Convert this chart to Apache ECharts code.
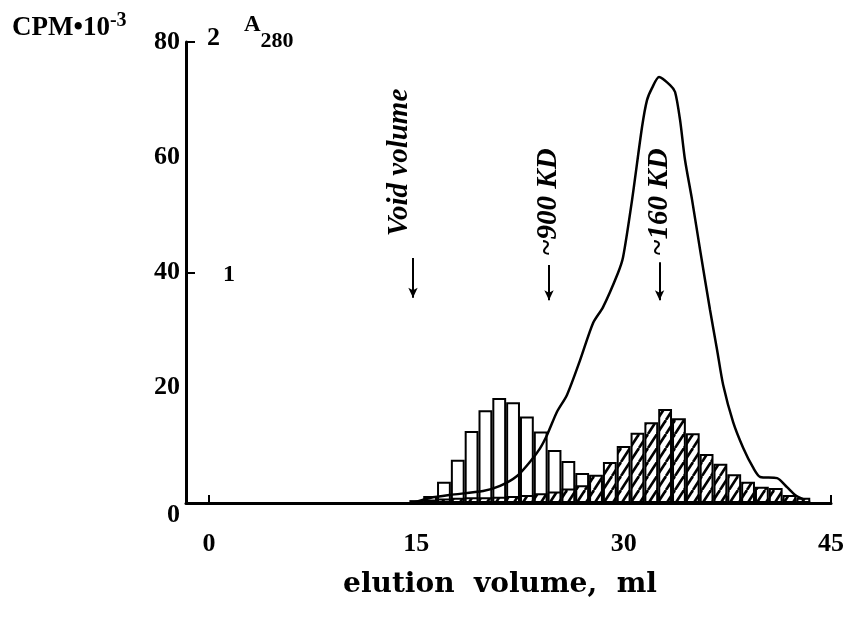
<!DOCTYPE html>
<html>
<head>
<meta charset="utf-8">
<script src="https://cdn.jsdelivr.net/npm/echarts@6/dist/echarts.min.js"></script>
<style>
  html, body { margin: 0; padding: 0; background: #fff; }
  #chart { width: 851px; height: 624px; }
</style>
</head>
<body>
<div id="chart"></div>
<script>
// fractions (elution volume, ml)
var fractions = [15,16,17,18,19,20,21,22,23,24,25,26,27,28,29,30,31,32,33,34,35,36,37,38,39,40,41,42,43];
// open bars, CPM*10^-3
var openCpm = [0.5,1.2,3.7,7.5,12.5,16.1,18.2,17.5,15.0,12.4,9.2,7.3,5.2,3.8,2.8,2.2,2.0,1.8,1.8,1.6,1.5,1.4,1.3,1.2,1.0,0.9,0.8,0.6,0.4];
// hatched bars, CPM*10^-3
var hatchCpm = [0.3,0.6,0.8,0.9,1.0,1.0,1.1,1.2,1.4,1.7,2.0,2.5,3.1,4.9,7.1,9.9,12.2,14.0,16.3,14.7,12.1,8.5,6.8,5.0,3.7,2.8,2.6,1.4,0.9];

// A280 profile
var a280Ml  = [14.7,15.99,17.44,19.83,21.06,22.29,23.23,23.95,24.46,25.18,25.9,26.85,27.79,28.51,29.59,29.96,30.61,31.33,31.69,32.05,32.56,33.36,33.72,34.08,34.44,34.95,35.53,36.25,36.76,37.2,37.92,38.65,39.38,39.88,41.1,41.82,42.4,42.98];
var a280Val = [0.0,0.022,0.035,0.052,0.074,0.117,0.179,0.237,0.295,0.396,0.469,0.62,0.781,0.85,0.998,1.067,1.315,1.631,1.748,1.8,1.848,1.813,1.783,1.662,1.488,1.315,1.098,0.837,0.664,0.512,0.351,0.239,0.152,0.113,0.108,0.069,0.035,0.017];

// markers
var markText  = ['Void volume', '~900 KD', '~160 KD'];
var markTextX = [13.82, 24.53, 32.63];
var markTextY = [59.1, 52.2, 52.2];
var arrowX    = [14.76, 24.6, 32.6];
var arrowTop  = [42.5, 41.3, 41.8];
var arrowTip  = [35.6, 35.2, 35.2];

var xTicks = [0, 45];
var xLabels = [0, 15, 30, 45];

var serif = '"Liberation Serif", "DejaVu Serif", serif';

// "/" hatching tile
function hatchTile() {
  var c = document.createElement('canvas');
  c.width = 9; c.height = 14;
  var ctx = c.getContext('2d');
  ctx.fillStyle = '#fff';
  ctx.fillRect(0, 0, 9, 14);
  ctx.strokeStyle = '#000';
  ctx.lineWidth = 2.6;
  [-9, 0, 9].forEach(function (o) {
    ctx.beginPath();
    ctx.moveTo(o, 14);
    ctx.lineTo(o + 9, 0);
    ctx.stroke();
  });
  return c;
}

var chart = echarts.init(document.getElementById('chart'));

var openData = fractions.map(function (f, i) { return [f, openCpm[i]]; });
var hatchData = fractions.map(function (f, i) { return [f, hatchCpm[i]]; });
var lineData = a280Ml.map(function (m, i) { return [m, a280Val[i]]; });
var textData = markText.map(function (t, i) { return [markTextX[i], markTextY[i], t]; });
var arrows = arrowX.map(function (x, i) {
  return [{ coord: [x, arrowTop[i]] }, { coord: [x, arrowTip[i]] }];
});

var option = {
  animation: false,
  backgroundColor: '#fff',
  grid: { left: 186, right: 20, top: 42, bottom: 121, containLabel: false },
  xAxis: {
    type: 'value',
    min: -1.66,
    max: 45,
    axisLine: { onZero: false, lineStyle: { color: '#000', width: 3 } },
    axisTick: { show: true, inside: true, length: 8, customValues: xTicks, lineStyle: { color: '#000', width: 2 } },
    axisLabel: {
      customValues: xLabels,
      margin: 28,
      color: '#000',
      fontFamily: serif,
      fontWeight: 'bold',
      fontSize: 26
    },
    splitLine: { show: false }
  },
  yAxis: [{
    type: 'value',
    min: 0,
    max: 80,
    interval: 20,
    axisLine: { show: true, onZero: false, lineStyle: { color: '#000', width: 3 } },
    axisTick: { show: false },
    axisLabel: {
      margin: 6,
      color: '#000',
      fontFamily: serif,
      fontWeight: 'bold',
      fontSize: 26,
      formatter: function (v) { return v === 0 ? '{z|0}' : String(v); },
      rich: {
        z: { fontFamily: serif, fontWeight: 'bold', fontSize: 26, color: '#000', padding: [24, 0, 0, 0] }
      }
    },
    splitLine: { show: false }
  }, {
    type: 'value',
    position: 'left',
    min: 0,
    max: 2,
    axisLine: { show: false, onZero: false },
    axisTick: { show: true, inside: true, length: 9, customValues: [1, 2], lineStyle: { color: '#000', width: 2 } },
    axisLabel: {
      inside: true,
      customValues: [1, 2],
      margin: 21,
      color: '#000',
      fontFamily: serif,
      fontWeight: 'bold',
      fontSize: 26,
      formatter: function (v) { return v === 2 ? '{t|2}' : '{o|1}'; },
      rich: {
        t: { fontFamily: serif, fontWeight: 'bold', fontSize: 26, padding: [0, 0, 8, 0] },
        o: { fontFamily: serif, fontWeight: 'bold', fontSize: 24, padding: [4, 0, 0, 16] }
      }
    },
    splitLine: { show: false }
  }],
  graphic: [{
    type: 'text',
    left: 12,
    top: 11,
    style: {
      text: '{m|CPM•10}{s|-3}',
      rich: {
        m: { fontFamily: serif, fontWeight: 'bold', fontSize: 27, fill: '#000' },
        s: { fontFamily: serif, fontWeight: 'bold', fontSize: 20, fill: '#000', padding: [0, 0, 14, 0] }
      }
    }
  }, {
    type: 'text',
    left: 244,
    top: 14,
    style: {
      text: '{a|A}{b|280}',
      rich: {
        a: { fontFamily: serif, fontWeight: 'bold', fontSize: 23, fill: '#000', padding: [0, 0, 16, 0] },
        b: { fontFamily: serif, fontWeight: 'bold', fontSize: 22, fill: '#000', padding: [16, 0, 0, 0] }
      }
    }
  }, {
    type: 'text',
    x: 500,
    y: 585,
    style: {
      text: 'elution  volume,  ml',
      fontFamily: '"DejaVu Serif", serif',
      fontWeight: 'bold',
      fontSize: 28,
      fill: '#000',
      align: 'center',
      verticalAlign: 'middle'
    }
  }],
  series: [{
    name: 'open',
    type: 'bar',
    data: openData,
    barWidth: '100%',
    barGap: '-100%',
    itemStyle: { color: '#fff', borderColor: '#000', borderWidth: 2 }
  }, {
    name: 'hatched',
    type: 'bar',
    data: hatchData,
    barWidth: '100%',
    barGap: '-100%',
    itemStyle: {
      color: { image: hatchTile(), repeat: 'repeat' },
      borderColor: '#000',
      borderWidth: 2
    }
  }, {
    name: 'A280',
    type: 'line',
    yAxisIndex: 1,
    data: lineData,
    smooth: 0.25,
    showSymbol: false,
    lineStyle: { color: '#000', width: 2.5 },
    z: 5
  }, {
    name: 'markers',
    type: 'scatter',
    data: textData,
    symbolSize: 0,
    itemStyle: { color: '#000', opacity: 1 },
    label: {
      show: true,
      position: 'inside',
      rotate: 90,
      formatter: function (p) { return p.data[2]; },
      color: '#000',
      opacity: 1,
      textBorderWidth: 0,
      textBorderColor: 'transparent',
      fontFamily: serif,
      fontStyle: 'italic',
      fontWeight: 'bold',
      fontSize: 29
    },
    markLine: {
      silent: true,
      animation: false,
      symbol: ['none', 'arrow'],
      symbolSize: [7, 10],
      label: { show: false },
      lineStyle: { color: '#000', width: 2, type: 'solid' },
      data: arrows
    }
  }]
};

chart.setOption(option);
</script>
</body>
</html>
